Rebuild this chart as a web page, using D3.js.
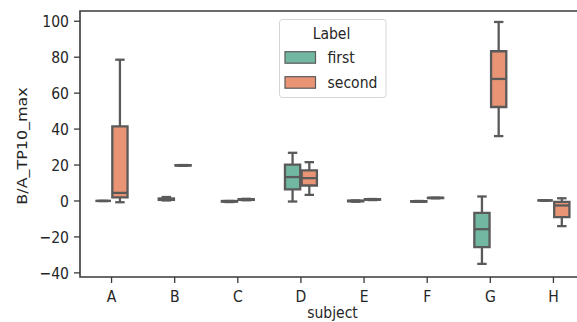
<!DOCTYPE html>
<html>
<head>
<meta charset="utf-8">
<script src="https://cdn.jsdelivr.net/npm/d3@7"></script>
<style>
  html, body { margin: 0; padding: 0; background: #fff; }
  svg { display: block; font-family: "DejaVu Sans", sans-serif; }
</style>
</head>
<body>
<svg id="chart" width="577" height="322"></svg>
<script>
"use strict"

// data: [min, q1, median, q3, max] per subject
const subjects = ["A", "B", "C", "D", "E", "F", "G", "H"]
const labels = ["first", "second"]
const firstStats = [
    [0, 0, 0, 0, 0],
    [0.3, 0.6, 1, 1.4, 2.2],
    [-0.6, -0.4, -0.2, 0, 0],
    [-0.3, 6.4, 13.3, 20.2, 26.8],
    [-0.4, -0.2, 0, 0.2, 0.3],
    [-0.5, -0.4, -0.3, -0.1, 0],
    [-35, -25.7, -15.7, -6.6, 2.5],
    [0.3, 0.3, 0.3, 0.3, 0.3]
]
const secondStats = [
    [-0.7, 2, 4.5, 41.5, 78.6],
    [19.6, 19.7, 19.8, 19.9, 20],
    [0.4, 0.6, 0.8, 1, 1.2],
    [3.4, 8.6, 12.7, 17, 21.6],
    [0.5, 0.7, 0.8, 1, 1.1],
    [1.5, 1.6, 1.7, 1.8, 1.8],
    [36.1, 52.3, 67.9, 83.3, 99.6],
    [-14, -9, -2.5, -0.5, 1.5]
]
const yTicks = [-40, -20, 0, 20, 40, 60, 80, 100]
const colors = ["#71b7a1", "#e99575"]

const svg = d3.select("#chart")
const mLeft = 80, mRight = 585, mTop = 11, mBottom = 277
const stretch = 1.17   // the source picture is a bit taller than wide
const lineColor = "#5a5a5a"

const x = d3.scaleBand().domain(subjects).range([mLeft, mRight])
const y = d3.scaleLinear().domain([-42.3, 105.7]).range([mBottom, mTop])
const bw = x.bandwidth()
const hue = d3.scaleBand().domain(labels).range([-0.265 * bw, 0.265 * bw])
const boxW = hue.bandwidth() - 1.5

function txt(g, tx, ty, s, extra) {
    return g.append("text")
        .attr("transform", `translate(${tx},${ty}) scale(1,${stretch})` + (extra || ""))
        .attr("font-size", 14)
        .attr("fill", "#262626")
        .text(s)
}

// boxes
const rows = []
subjects.forEach((s, i) => {
    rows.push({ s, label: "first", st: firstStats[i] })
    rows.push({ s, label: "second", st: secondStats[i] })
})

const boxes = svg.append("g")
rows.forEach(r => {
    const cx = x(r.s) + bw / 2 + hue(r.label) + hue.bandwidth() / 2
    const [mn, q1, md, q3, mx] = r.st
    const c = colors[labels.indexOf(r.label)]
    const g = boxes.append("g")
        .attr("stroke", lineColor)
        .attr("stroke-width", 2.3)
        .attr("fill", "none")
    const capW = boxW * 0.31
    // whiskers
    g.append("line").attr("x1", cx).attr("x2", cx).attr("y1", y(q3)).attr("y2", y(mx))
    g.append("line").attr("x1", cx).attr("x2", cx).attr("y1", y(q1)).attr("y2", y(mn))
    g.append("line").attr("x1", cx - capW).attr("x2", cx + capW).attr("y1", y(mx)).attr("y2", y(mx))
    g.append("line").attr("x1", cx - capW).attr("x2", cx + capW).attr("y1", y(mn)).attr("y2", y(mn))
    // box as a path so zero-height boxes still show as a line
    const x0 = cx - boxW / 2, x1 = cx + boxW / 2
    g.append("path")
        .attr("d", `M${x0},${y(q1)}L${x1},${y(q1)}L${x1},${y(q3)}L${x0},${y(q3)}Z`)
        .attr("fill", c)
        .attr("stroke-linejoin", "miter")
    g.append("line").attr("x1", x0).attr("x2", x1).attr("y1", y(md)).attr("y2", y(md))
})

// axes
const axisColor = "#3a3a3a"
const ax = svg.append("g")
ax.append("path")
    .attr("d", `M${mLeft},${mTop}H${mRight}V${mBottom}H${mLeft}Z`)
    .attr("fill", "none").attr("stroke", axisColor).attr("stroke-width", 1.6)

yTicks.forEach(t => {
    ax.append("line").attr("x1", mLeft - 6).attr("x2", mLeft).attr("y1", y(t)).attr("y2", y(t))
        .attr("stroke", axisColor).attr("stroke-width", 1.3)
    txt(ax, mLeft - 11, y(t) + 6.2, t < 0 ? "\u2212" + Math.abs(t) : String(t))
        .attr("text-anchor", "end")
})
subjects.forEach(s => {
    const cx = x(s) + bw / 2
    ax.append("line").attr("x1", cx).attr("x2", cx).attr("y1", mBottom).attr("y2", mBottom + 6)
        .attr("stroke", axisColor).attr("stroke-width", 1.3)
    txt(ax, cx, 302, s).attr("text-anchor", "middle")
})
txt(ax, (mLeft + mRight) / 2, 317.5, "subject").attr("text-anchor", "middle")
txt(ax, 27, 146, "B/A_TP10_max", " rotate(-90)")
    .attr("text-anchor", "middle").attr("font-size", 13.6)

// legend
const lg = svg.append("g")
lg.append("rect")
    .attr("x", 279.5).attr("y", 19.5).attr("width", 106.5).attr("height", 78)
    .attr("rx", 3).attr("fill", "#fff").attr("fill-opacity", 0.8)
    .attr("stroke", "#d5d5d5").attr("stroke-width", 1)
txt(lg, 331.5, 38.5, "Label").attr("text-anchor", "middle")
labels.forEach((l, i) => {
    const yy = 51.7 + i * 25
    lg.append("rect").attr("x", 285).attr("y", yy).attr("width", 30.5).attr("height", 11.5)
        .attr("fill", colors[i]).attr("stroke", lineColor).attr("stroke-width", 1.2)
    txt(lg, 327.5, yy + 11, l)
})
</script>
</body>
</html>
